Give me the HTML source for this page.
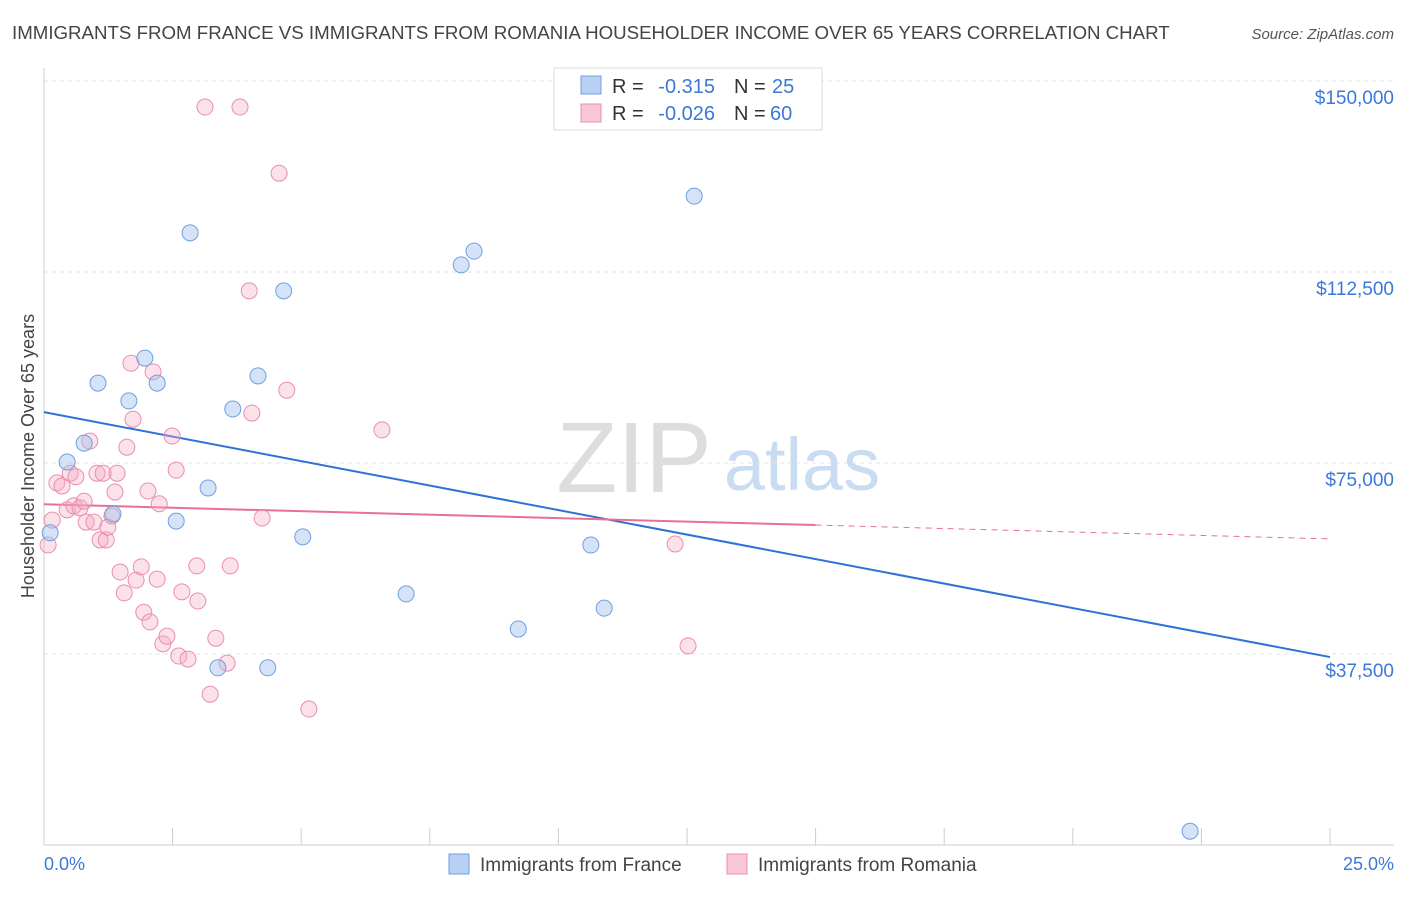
<!DOCTYPE html>
<html><head><meta charset="utf-8"><style>
body{margin:0;background:#fff;width:1406px;height:892px;overflow:hidden;font-family:"Liberation Sans",sans-serif}
svg text{font-family:"Liberation Sans",sans-serif}
</style></head><body>
<svg id="chart" width="1406" height="892" xmlns="http://www.w3.org/2000/svg">
<text x="12" y="39" font-size="18.7" fill="#444">IMMIGRANTS FROM FRANCE VS IMMIGRANTS FROM ROMANIA HOUSEHOLDER INCOME OVER 65 YEARS CORRELATION CHART</text>
<text x="1394" y="39" font-size="15" fill="#555" text-anchor="end" font-style="italic">Source: ZipAtlas.com</text>
<g>
<text x="634" y="492" font-size="100" font-family="Liberation Serif" fill="#ddd" text-anchor="middle">ZIP</text>
<text x="802" y="490" font-size="74" fill="#c9dcf2" text-anchor="middle">atlas</text>
</g>
<g id="grid"></g><g id="axes"></g><g id="lines"></g><g id="pts"></g>
<text transform="translate(34,456) rotate(-90)" font-size="18" fill="#444" text-anchor="middle">Householder Income Over 65 years</text>
<text x="44" y="870" font-size="18" fill="#3b78d8">0.0%</text>
<text x="1394" y="870" font-size="18" fill="#3b78d8" text-anchor="end">25.0%</text>
<g font-size="20">
<rect x="554" y="68" width="268" height="62" fill="#fff" stroke="#ddd"/>
<rect x="581" y="76" width="20" height="18" fill="#b8d0f2" stroke="#6fa0e0"/>
<rect x="581" y="104" width="20" height="18" fill="#f8c6d4" stroke="#ea8fac"/>
<text x="612" y="93" fill="#333">R =</text><text x="715" y="93" fill="#3b78d8" text-anchor="end">-0.315</text>
<text x="734" y="93" fill="#333">N =</text><text x="772" y="93" fill="#3b78d8">25</text>
<text x="612" y="120" fill="#333">R =</text><text x="715" y="120" fill="#3b78d8" text-anchor="end">-0.026</text>
<text x="734" y="120" fill="#333">N =</text><text x="770" y="120" fill="#3b78d8">60</text>
</g>
<g>
<rect x="449" y="854" width="20" height="20" fill="#b8d0f2" stroke="#6fa0e0"/>
<text x="480" y="871" font-size="19" fill="#444">Immigrants from France</text>
<rect x="727" y="854" width="20" height="20" fill="#f8c6d4" stroke="#ea8fac"/>
<text x="758" y="871" font-size="19" fill="#444">Immigrants from Romania</text>
</g>
</svg>
<script>
const yTicks=[37500,75000,112500,150000];
const yTickLabels=["$37,500","$75,000","$112,500","$150,000"];
const xTicks=[0,2.5,5,7.5,10,12.5,15,17.5,20,22.5,25];
const franceX=[0.12,0.45,0.78,1.05,1.34,1.65,1.96,2.2,2.57,2.84,3.19,3.38,3.67,4.16,4.35,4.66,5.03,7.04,8.11,8.36,9.22,10.63,10.89,12.64,22.28];
const franceY=[61.3,75.2,78.9,90.7,65.0,87.2,95.6,90.7,63.6,120.2,70.1,34.8,85.6,92.1,34.8,108.8,60.5,49.3,113.9,116.6,42.4,58.9,46.5,127.4,2.7];
const romaniaX=[0.08,0.16,0.25,0.35,0.45,0.51,0.58,0.62,0.70,0.78,0.82,0.89,0.97,1.03,1.09,1.15,1.21,1.24,1.32,1.38,1.42,1.48,1.56,1.61,1.69,1.73,1.79,1.89,1.94,2.02,2.06,2.12,2.20,2.24,2.31,2.39,2.49,2.57,2.62,2.68,2.80,2.97,2.99,3.13,3.23,3.34,3.56,3.62,3.81,3.99,4.04,4.24,4.57,4.72,5.15,6.57,12.27,12.52];
const romaniaY=[58.9,63.8,71.1,70.5,65.8,73.0,66.6,72.3,66.2,67.5,63.4,79.3,63.4,73.0,59.9,73.0,59.9,62.4,64.6,69.3,73.0,53.6,49.5,78.1,94.6,83.6,52.0,54.6,45.7,69.5,43.8,92.9,52.2,67.0,39.5,41.0,80.3,73.6,37.1,49.7,36.5,54.8,47.9,144.9,29.6,40.6,35.7,54.8,144.9,108.8,84.8,64.2,131.9,89.3,26.7,81.5,59.1,39.1];
const franceTrend=[85.0,36.9];
const romaniaTrend=[66.9,60.1];
const romaniaSolidEnd=15;
const NS="http://www.w3.org/2000/svg";
const X=v=>44+v/25*1286;
const Y=v=>845-v*0.005093;
const Yk=v=>Y(v*1000);
function mk(t,a,p){const e=document.createElementNS(NS,t);for(const k in a)e.setAttribute(k,a[k]);document.getElementById(p).appendChild(e);return e;}
yTicks.forEach((t,i)=>{
 const g=mk('line',{x1:44,x2:1394,y1:Y(t),y2:Y(t),stroke:'#e3e3e3','stroke-dasharray':'4,4'},'grid');
 
 
 const l=mk('text',{x:1394,y:Y(t)+23,'font-size':19,fill:'#3b78d8','text-anchor':'end'},'axes');
 l.textContent=yTickLabels[i];
 
 
});
const ax=mk('line',{x1:44,x2:1394,y1:845,y2:845,stroke:'#ccc'},'axes');


const ay=mk('line',{x1:44,x2:44,y1:68,y2:845,stroke:'#ccc'},'axes');


xTicks.forEach(t=>{
 const k=mk('line',{x1:X(t),x2:X(t),y1:828,y2:845,stroke:'#ccc'},'axes');
 
 
});
const bl=mk('line',{x1:X(0),y1:Yk(franceTrend[0]),x2:X(25),y2:Yk(franceTrend[1]),stroke:'#2f72d6','stroke-width':2},'lines');


const rAt=x=>romaniaTrend[0]+(romaniaTrend[1]-romaniaTrend[0])*x/25;
const pl=mk('line',{x1:X(0),y1:Yk(rAt(0)),x2:X(romaniaSolidEnd),y2:Yk(rAt(romaniaSolidEnd)),stroke:'#e86f98','stroke-width':2},'lines');


const pd=mk('line',{x1:X(romaniaSolidEnd),y1:Yk(rAt(romaniaSolidEnd)),x2:X(25),y2:Yk(rAt(25)),stroke:'#e86f98','stroke-width':1,'stroke-dasharray':'6,5'},'lines');


romaniaX.forEach((x,i)=>{
 const c=mk('circle',{cx:X(x),cy:Yk(romaniaY[i]),r:8,fill:'rgba(244,170,195,0.35)',stroke:'#ea8fac','stroke-width':1},'pts');
 
 
});
franceX.forEach((x,i)=>{
 const c=mk('circle',{cx:X(x),cy:Yk(franceY[i]),r:8,fill:'rgba(160,192,238,0.45)',stroke:'#6fa0e0','stroke-width':1},'pts');
 
 
});
</script>
</body></html>
